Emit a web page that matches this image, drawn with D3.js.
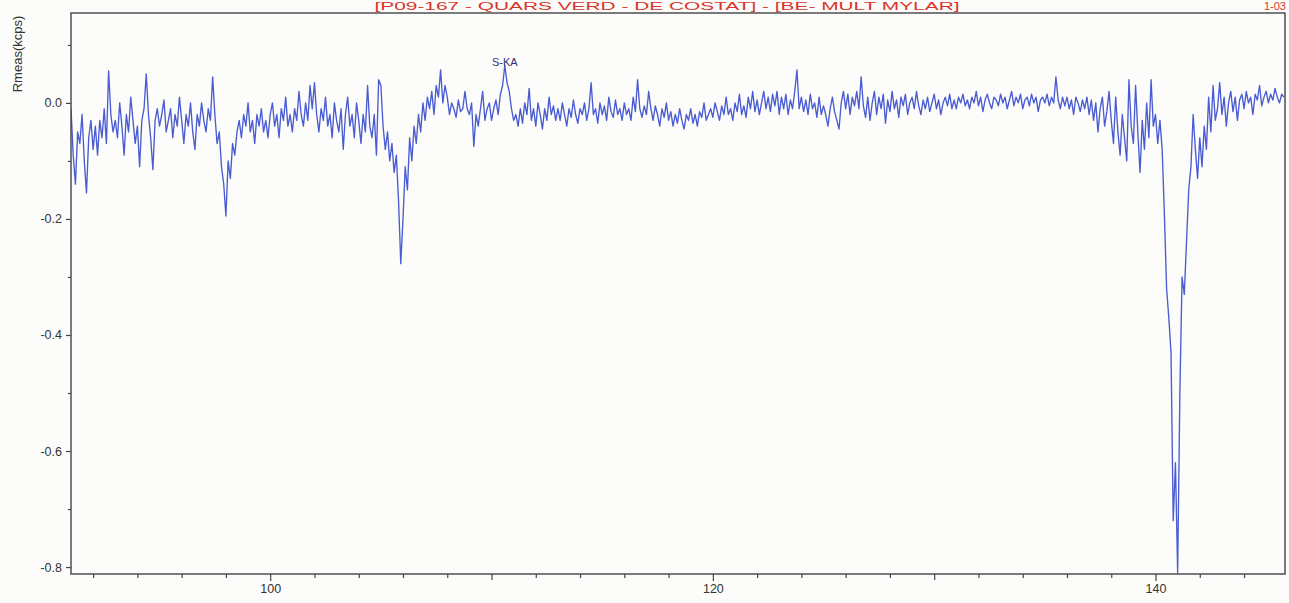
<!DOCTYPE html>
<html lang="en">
<head>
<meta charset="UTF-8">
<title>Rmeas spectrum</title>
<script src="https://d3js.org/d3.v7.min.js"></script>
<style>
  html, body { margin: 0; padding: 0; background: #fcfcfa; }
  svg { display: block; }
  text { font-family: "Liberation Sans", Arial, sans-serif; }
  .axis .tick text { fill: #333; font-size: 12.5px; }
  .axis line, .axis path { stroke: #444; stroke-width: 1.2px; }
  .frame { fill: none; stroke: #444; stroke-width: 1.4px; }
  .spectrum { fill: none; stroke: #4a5cd2; stroke-width: 1.35px; stroke-linejoin: round; }
</style>
</head>
<body>
<svg width="1289" height="603"></svg>
<script>
// energy grid of the scan
const eStart = 91, eStep = 0.1;

// Rmeas (kcps), one row per unit of the x axis
const rmeas = [
  -0.01, -0.09, -0.14, -0.05, -0.07, -0.02, -0.10, -0.155, -0.06, -0.03,   // 91
  -0.08, -0.04, -0.09, -0.03, -0.06, -0.01, -0.07, 0.055, -0.02, -0.05,    // 92
  -0.03, -0.06, 0.0, -0.04, -0.09, -0.02, -0.05, 0.01, -0.03, -0.07,       // 93
  -0.04, -0.11, -0.03, -0.01, 0.05, -0.02, -0.06, -0.115, -0.03, -0.01,    // 94
  -0.04, -0.02, 0.005, -0.05, -0.03, -0.01, -0.06, -0.02, -0.04, 0.01,     // 95
  -0.03, -0.07, -0.02, -0.04, 0.0, -0.05, -0.08, -0.02, -0.04, 0.0,        // 96
  -0.03, -0.05, -0.01, -0.03, 0.045, -0.02, -0.07, -0.05, -0.11, -0.14,    // 97
  -0.195, -0.10, -0.13, -0.07, -0.09, -0.05, -0.03, -0.06, -0.02, -0.04,   // 98
  0.0, -0.05, -0.03, -0.07, -0.02, -0.04, -0.01, -0.05, -0.03, -0.06,      // 99
  -0.02, 0.0, -0.04, -0.02, -0.06, -0.01, -0.03, 0.01, -0.04, -0.02,       // 100
  -0.05, -0.01, -0.03, 0.02, -0.02, -0.04, 0.0, -0.03, 0.03, -0.01,        // 101
  0.035, -0.02, -0.05, -0.01, -0.03, 0.01, -0.04, -0.02, -0.06, 0.0,       // 102
  -0.03, -0.05, -0.01, -0.08, -0.02, 0.01, -0.04, -0.02, -0.06, 0.0,       // 103
  -0.03, -0.07, -0.02, -0.05, 0.03, -0.04, -0.06, -0.02, -0.09, 0.04,      // 104
  0.03, -0.04, -0.08, -0.05, -0.10, -0.07, -0.12, -0.09, -0.17, -0.277,    // 105
  -0.20, -0.11, -0.15, -0.06, -0.10, -0.04, -0.07, -0.02, -0.05, 0.0,      // 106
  -0.03, 0.01, -0.01, 0.02, -0.02, 0.03, 0.01, 0.057, 0.0, 0.03,           // 107
  0.01, -0.02, 0.0, -0.01, -0.025, 0.005, -0.015, -0.01, 0.02, -0.01,      // 108
  -0.02, 0.0, -0.075, -0.02, -0.04, -0.01, 0.02, -0.03, -0.01, 0.0,        // 109
  -0.03, -0.01, 0.005, -0.02, 0.015, 0.03, 0.065, 0.035, 0.02, -0.01,      // 110
  -0.03, -0.02, -0.04, -0.01, -0.035, 0.0, -0.02, 0.025, -0.03, -0.01,     // 111
  -0.04, 0.0, -0.02, -0.045, -0.01, -0.03, 0.01, -0.02, -0.005, -0.03,     // 112
  -0.01, -0.03, 0.0, -0.02, -0.04, -0.01, -0.025, 0.005, -0.02, -0.035,    // 113
  -0.01, -0.02, 0.0, -0.03, -0.01, 0.035, -0.02, -0.01, -0.035, 0.0,       // 114
  -0.02, -0.005, -0.03, 0.01, -0.015, -0.025, 0.005, -0.02, -0.01, -0.03,  // 115
  0.0, -0.02, -0.01, -0.03, 0.01, -0.015, 0.04, -0.01, -0.025, -0.005,     // 116
  -0.02, 0.02, -0.01, -0.03, -0.005, -0.02, -0.04, -0.01, -0.025, 0.0,     // 117
  -0.03, -0.015, -0.04, -0.02, -0.035, -0.01, -0.03, -0.045, -0.02, -0.03, // 118
  -0.01, -0.035, -0.02, -0.04, -0.015, -0.025, 0.0, -0.03, -0.02, -0.01,   // 119
  -0.025, 0.0, -0.015, -0.03, -0.005, -0.02, 0.01, -0.02, -0.01, -0.03,    // 120
  0.0, -0.015, 0.015, -0.02, -0.005, -0.025, 0.01, -0.01, 0.02, -0.015,    // 121
  0.005, -0.02, 0.0, 0.02, -0.01, 0.01, -0.015, 0.015, -0.005, 0.02,       // 122
  -0.02, 0.01, -0.01, 0.015, -0.02, 0.005, -0.01, 0.02, 0.057, -0.01,      // 123
  0.01, -0.015, 0.005, -0.02, 0.015, -0.01, 0.0, -0.025, 0.01, -0.02,      // 124
  -0.005, -0.02, -0.04, -0.01, 0.01, -0.015, -0.03, -0.045, 0.0, 0.02,     // 125
  -0.01, 0.015, -0.02, 0.01, -0.005, 0.02, -0.01, 0.045, -0.005, -0.025,   // 126
  0.01, -0.03, 0.0, 0.02, -0.02, 0.01, -0.01, 0.015, -0.035, 0.005,        // 127
  -0.015, 0.02, -0.01, 0.005, -0.025, 0.01, -0.005, 0.015, -0.02, 0.0,     // 128
  0.01, -0.01, 0.02, -0.005, -0.02, 0.005, -0.01, 0.01, -0.015, 0.0,       // 129
  0.015, -0.01, 0.005, -0.02, 0.0, 0.01, -0.005, 0.015, -0.01, 0.005,      // 130
  -0.01, 0.01, 0.0, 0.015, -0.005, 0.005, -0.01, 0.01, 0.0, 0.02,          // 131
  -0.005, 0.01, -0.015, 0.005, 0.015, 0.0, -0.01, 0.01, 0.005, -0.005,     // 132
  0.015, 0.0, 0.01, -0.01, 0.005, 0.02, -0.005, 0.01, 0.0, 0.015,          // 133
  -0.01, 0.005, 0.01, -0.005, 0.015, 0.0, 0.01, -0.015, 0.005, 0.01,       // 134
  0.0, 0.015, -0.005, 0.01, 0.0, 0.045, 0.005, -0.01, 0.01, -0.005,        // 135
  0.01, -0.01, 0.005, -0.02, 0.01, 0.0, -0.015, 0.005, -0.01, 0.01,        // 136
  -0.02, 0.005, -0.03, 0.0, -0.05, -0.01, 0.01, -0.04, -0.015, 0.02,       // 137
  -0.03, -0.07, 0.01, -0.05, -0.09, -0.02, -0.06, -0.10, 0.04, -0.04,      // 138
  -0.07, 0.03, -0.05, -0.12, -0.03, -0.08, 0.0, -0.06, 0.04, -0.04,        // 139
  -0.02, -0.07, -0.03, -0.08, -0.19, -0.32, -0.37, -0.43, -0.72, -0.62,    // 140
  -0.81, -0.50, -0.30, -0.33, -0.24, -0.15, -0.11, -0.02, -0.08, -0.13,    // 141
  -0.06, -0.11, -0.04, -0.08, 0.01, -0.05, 0.03, -0.03, -0.01, 0.035,      // 142
  -0.02, 0.01, -0.04, 0.0, 0.02, -0.015, 0.01, -0.03, 0.005, 0.015,        // 143
  -0.01, 0.02, 0.0, 0.01, -0.02, 0.015, 0.005, 0.03, -0.005, 0.01,         // 144
  0.02, 0.0, 0.015, 0.005, 0.025, 0.01, 0.0, 0.015, 0.01                   // 145
];

const xLabelTicks = [100, 120, 140];
const xMidTicks = [110, 130];
const xMinorTicks = [92, 94, 96, 98, 102, 104, 106, 108, 112, 114, 116, 118,
                     122, 124, 126, 128, 132, 134, 136, 138, 142, 144];
const yLabelTicks = [0.0, -0.2, -0.4, -0.6, -0.8];
const yMinorTicks = [0.1, -0.1, -0.3, -0.5, -0.7];

const titleText = "[P09-167 - QUARS VERD - DE COSTAT] - [BE- MULT MYLAR]";
const cornerText = "1-03";
const peakLabel = { text: "S-KA", e: 110.6 };

const svg = d3.select("svg");
const plotL = 71, plotR = 1285, plotT = 13, plotB = 574;

const x = d3.scaleLinear().domain([91, 145.85]).range([plotL, plotR]);
const y = d3.scaleLinear().domain([-0.812, 0.155]).range([plotB, plotT]);

const points = rmeas.map((v, i) => ({ e: eStart + i * eStep, r: v }));

svg.append("defs").append("clipPath").attr("id", "plot")
  .append("rect")
  .attr("x", plotL).attr("y", plotT)
  .attr("width", plotR - plotL).attr("height", plotB - plotT);

// spectrum
svg.append("path")
  .datum(points)
  .attr("class", "spectrum")
  .attr("clip-path", "url(#plot)")
  .attr("d", d3.line().x(d => x(d.e)).y(d => y(d.r)));

// y axis
svg.append("g").attr("class", "axis")
  .attr("transform", `translate(${plotL},0)`)
  .call(d3.axisLeft(y).tickValues(yLabelTicks).tickSize(5).tickPadding(4)
    .tickSizeOuter(0).tickFormat(d => d.toFixed(1)))
  .call(g => g.select(".domain").remove());

svg.append("g").attr("class", "axis")
  .attr("transform", `translate(${plotL},0)`)
  .call(d3.axisLeft(y).tickValues(yMinorTicks).tickSize(3).tickFormat(""))
  .call(g => g.select(".domain").remove());

// x axis
svg.append("g").attr("class", "axis")
  .attr("transform", `translate(0,${plotB})`)
  .call(d3.axisBottom(x).tickValues(xLabelTicks).tickSize(7).tickPadding(3)
    .tickFormat(d3.format("d")))
  .call(g => g.select(".domain").remove());

svg.append("g").attr("class", "axis")
  .attr("transform", `translate(0,${plotB})`)
  .call(d3.axisBottom(x).tickValues(xMidTicks).tickSize(6).tickFormat(""))
  .call(g => g.select(".domain").remove());

svg.append("g").attr("class", "axis")
  .attr("transform", `translate(0,${plotB})`)
  .call(d3.axisBottom(x).tickValues(xMinorTicks).tickSize(4).tickFormat(""))
  .call(g => g.select(".domain").remove());

// frame
svg.append("rect").attr("class", "frame")
  .attr("x", plotL).attr("y", plotT)
  .attr("width", plotR - plotL).attr("height", plotB - plotT);

// y label
svg.append("text")
  .attr("transform", "translate(22,54) rotate(-90)")
  .attr("text-anchor", "middle")
  .attr("font-size", 13)
  .attr("fill", "#333")
  .text("Rmeas(kcps)");

// title above the frame
svg.append("text")
  .attr("x", 667).attr("y", 10)
  .attr("text-anchor", "middle")
  .attr("font-size", 11)
  .attr("textLength", 585)
  .attr("lengthAdjust", "spacingAndGlyphs")
  .attr("fill", "#d9342b")
  .text(titleText);

svg.append("text")
  .attr("x", 1286).attr("y", 10)
  .attr("text-anchor", "end")
  .attr("font-size", 11)
  .attr("fill", "#d9342b")
  .text(cornerText);

// peak label
svg.append("text")
  .attr("x", x(peakLabel.e)).attr("y", 66)
  .attr("text-anchor", "middle")
  .attr("font-size", 11)
  .attr("fill", "#2d3274")
  .text(peakLabel.text);
</script>
</body>
</html>
